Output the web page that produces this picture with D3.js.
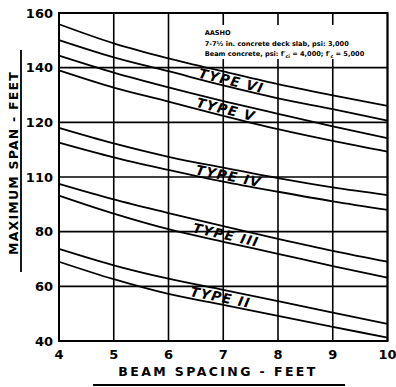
<!DOCTYPE html>
<html>
<head>
<meta charset="utf-8">
<script src="https://cdn.jsdelivr.net/npm/d3@7"></script>
<style>
  body { margin: 0; background: #fff; }
  svg { display: block; font-family: "DejaVu Sans", sans-serif; }
</style>
</head>
<body>
<svg width="396" height="387"></svg>
<script>
// beam spacing, ft
const spacing = [4, 5, 6, 7, 8, 9, 10];

// max span, ft (upper and lower curve of each AASHO type)
const types = ["VI", "V", "IV", "III", "II"];
const upperSpan = [
  [155.9, 148.9, 143.4, 138.6, 134.0, 129.9, 126.0],
  [144.4, 138.2, 132.8, 127.8, 123.1, 118.5, 114.2],
  [118.0, 112.3, 107.4, 103.4, 99.6, 96.2, 93.4],
  [97.5, 91.8, 86.8, 82.0, 77.4, 73.0, 69.0],
  [73.7, 67.7, 62.8, 58.7, 54.6, 50.4, 46.3]
];
const lowerSpan = [
  [150.1, 143.8, 138.7, 133.5, 128.8, 124.8, 120.6],
  [139.0, 132.7, 127.6, 122.4, 117.5, 113.2, 109.3],
  [112.6, 107.2, 102.6, 98.3, 94.6, 91.1, 88.0],
  [93.2, 86.6, 80.9, 76.3, 71.9, 67.4, 63.2],
  [69.0, 62.6, 57.2, 53.2, 49.2, 45.2, 41.2]
];
// where along x each type label sits
const labelAt = [7.15, 7.05, 7.1, 7.05, 6.95];

const yTickValues = [40, 60, 80, 100, 120, 140, 160];
const yTickLabels = ["40", "60", "80", "110", "120", "140", "160"];
const xTickValues = [4, 5, 6, 7, 8, 9, 10];

const svg = d3.select("svg"),
  margin = { top: 13, right: 8.5, bottom: 46, left: 59 },
  width = +svg.attr("width") - margin.left - margin.right,
  height = +svg.attr("height") - margin.top - margin.bottom;

const g = svg.append("g").attr("transform", "translate(" + margin.left + "," + margin.top + ")");

const x = d3.scaleLinear().domain([4, 10]).range([0, width]);
const y = d3.scaleLinear().domain([40, 160]).range([height, 0]);

// grid
g.append("g")
  .selectAll("line")
  .data(xTickValues)
  .enter()
  .append("line")
  .attr("x1", d => x(d)).attr("x2", d => x(d))
  .attr("y1", 0).attr("y2", height)
  .attr("stroke", "#000").attr("stroke-width", 1.6);

g.append("g")
  .selectAll("line")
  .data(yTickValues)
  .enter()
  .append("line")
  .attr("x1", 0).attr("x2", width)
  .attr("y1", d => y(d)).attr("y2", d => y(d))
  .attr("stroke", "#000").attr("stroke-width", 1.6);

g.append("rect")
  .attr("width", width).attr("height", height)
  .attr("fill", "none").attr("stroke", "#000").attr("stroke-width", 2);

// note box
const note = g.append("g").attr("transform", "translate(" + x(6.66) + ",0)");
note.append("rect").attr("x", -2).attr("y", 12).attr("width", 150).attr("height", 34).attr("fill", "#fff");
const noteText = note.append("text").attr("font-size", 6.6).attr("font-weight", "bold").attr("fill", "#000");
noteText.append("tspan").attr("x", 0).attr("y", 22).text("AASHO");
noteText.append("tspan").attr("x", 0).attr("y", 32.5).text("7-7½ in. concrete deck slab, psi: 3,000");
const l3 = noteText.append("tspan").attr("x", 0).attr("y", 42.5);
l3.append("tspan").text("Beam concrete, psi: f′");
l3.append("tspan").attr("font-size", 4.8).attr("dy", 2).text("ci");
l3.append("tspan").attr("dy", -2).text(" = 4,000; f′");
l3.append("tspan").attr("font-size", 4.8).attr("dy", 2).text("c");
l3.append("tspan").attr("dy", -2).text(" = 5,000");

// curves
const line = d3.line()
  .x((d, i) => x(spacing[i]))
  .y(d => y(d))
  .curve(d3.curveMonotoneX);

const curves = g.append("g").attr("fill", "none").attr("stroke", "#000").attr("stroke-width", 1.8);
upperSpan.concat(lowerSpan).forEach(function (s) {
  curves.append("path").attr("d", line(s));
});

// type labels
function spanAt(s, xv) {
  const i = Math.min(Math.floor(xv) - 4, 5);
  return s[i] + (s[i + 1] - s[i]) * (xv - spacing[i]);
}
types.forEach(function (t, k) {
  const xv = labelAt[k];
  const yc = (y(spanAt(upperSpan[k], xv)) + y(spanAt(lowerSpan[k], xv))) / 2;
  const dy = y(spanAt(lowerSpan[k], xv + 0.5)) - y(spanAt(lowerSpan[k], xv - 0.5));
  const ang = Math.atan2(dy, x(xv + 0.5) - x(xv - 0.5)) * 180 / Math.PI;
  g.append("text")
    .attr("transform", "translate(" + x(xv) + "," + yc + ") rotate(" + ang + ")")
    .attr("text-anchor", "middle")
    .attr("dy", "0.38em")
    .attr("font-size", 13.5)
    .attr("font-weight", "bold")
    .attr("font-style", "italic")
    .attr("letter-spacing", 1.2)
    .text("TYPE  " + t);
});

// tick labels
g.append("g")
  .selectAll("text")
  .data(yTickValues)
  .enter()
  .append("text")
  .attr("x", -6)
  .attr("y", d => y(d))
  .attr("dy", "0.36em")
  .attr("text-anchor", "end")
  .attr("font-size", 13)
  .attr("font-weight", "bold")
  .text((d, i) => yTickLabels[i]);

g.append("g")
  .selectAll("text")
  .data(xTickValues)
  .enter()
  .append("text")
  .attr("x", d => x(d))
  .attr("y", height + 18)
  .attr("text-anchor", "middle")
  .attr("font-size", 13)
  .attr("font-weight", "bold")
  .text(d => d);

// axis titles
svg.append("text")
  .attr("x", 218).attr("y", 376)
  .attr("text-anchor", "middle")
  .attr("font-size", 12.5)
  .attr("font-weight", "bold")
  .attr("letter-spacing", 2.4)
  .text("BEAM  SPACING  -  FEET");
svg.append("line")
  .attr("x1", 93).attr("x2", 345).attr("y1", 385).attr("y2", 385)
  .attr("stroke", "#000").attr("stroke-width", 1.8);

svg.append("text")
  .attr("transform", "translate(18,163) rotate(-90)")
  .attr("text-anchor", "middle")
  .attr("font-size", 12.5)
  .attr("font-weight", "bold")
  .attr("letter-spacing", 1.2)
  .text("MAXIMUM  SPAN  -  FEET");
svg.append("line")
  .attr("x1", 21).attr("x2", 21).attr("y1", 50).attr("y2", 272)
  .attr("stroke", "#000").attr("stroke-width", 1.8);
</script>
</body>
</html>
